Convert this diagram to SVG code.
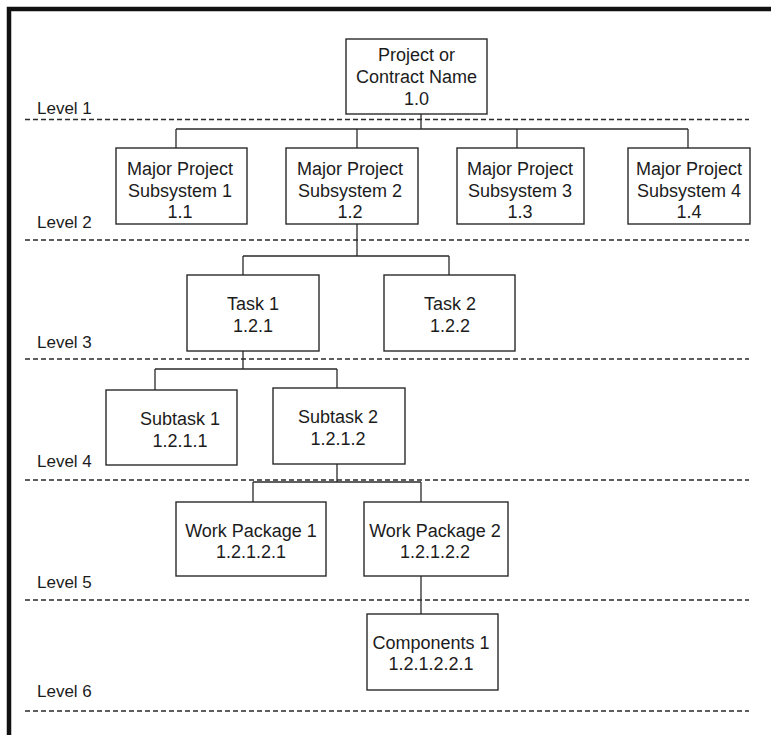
<svg xmlns="http://www.w3.org/2000/svg" width="771" height="735" viewBox="0 0 771 735">
<style>
.bg{fill:#ffffff}
.frame{fill:none;stroke:#111;stroke-width:4.5}
.lvl{fill:none;stroke:#2a2a2a;stroke-width:1.3;stroke-dasharray:5 3}
.box{fill:#fff;stroke:#2a2a2a;stroke-width:1.4}
.con{fill:none;stroke:#2a2a2a;stroke-width:1.3}
text{font-family:"Liberation Sans",Arial,Helvetica,sans-serif;fill:#1c1c1c}
.t{font-size:18px;text-anchor:middle}
.lab{font-size:17px}
</style>
<rect class="bg" x="0" y="0" width="771" height="735"/>
<path class="frame" d="M9 735 V9 H771"/>
<g id="levels">
<line class="lvl" x1="25" y1="119.5" x2="749" y2="119.5"/>
<line class="lvl" x1="25" y1="240" x2="749" y2="240"/>
<line class="lvl" x1="25" y1="359" x2="749" y2="359"/>
<line class="lvl" x1="25" y1="480" x2="749" y2="480"/>
<line class="lvl" x1="25" y1="600" x2="749" y2="600"/>
<line class="lvl" x1="25" y1="711" x2="749" y2="711"/>
<text class="lab" x="37" y="114">Level 1</text>
<text class="lab" x="37" y="228">Level 2</text>
<text class="lab" x="37" y="348">Level 3</text>
<text class="lab" x="37" y="467">Level 4</text>
<text class="lab" x="37" y="588">Level 5</text>
<text class="lab" x="37" y="697">Level 6</text>
</g>
<g id="connectors">
<path class="con" d="M421 114 V129 M176 129 H688 M176 129 V148 M357 129 V148 M517 129 V148 M688 129 V148"/>
<path class="con" d="M357 224 V256 M243 256 H449 M243 256 V275 M449 256 V275"/>
<path class="con" d="M243 351 V369 M155 369 H337 M155 369 V390 M337 369 V388"/>
<path class="con" d="M337 464 V482 M253 482 H421 M253 482 V502 M421 482 V502"/>
<path class="con" d="M421 576 V614"/>
</g>
<g id="n1_0">
<rect class="box" x="346" y="39" width="141" height="75"/>
<text class="t" x="416.5" y="61">Project or</text>
<text class="t" x="416.5" y="83">Contract Name</text>
<text class="t" x="416.5" y="105">1.0</text>
</g>
<g id="n1_1">
<rect class="box" x="116" y="148" width="131" height="76"/>
<text class="t" x="180" y="175">Major Project</text>
<text class="t" x="180" y="197">Subsystem 1</text>
<text class="t" x="180" y="218">1.1</text>
</g>
<g id="n1_2">
<rect class="box" x="286" y="148" width="132" height="76"/>
<text class="t" x="350" y="175">Major Project</text>
<text class="t" x="350" y="197">Subsystem 2</text>
<text class="t" x="350" y="218">1.2</text>
</g>
<g id="n1_3">
<rect class="box" x="457" y="148" width="127" height="76"/>
<text class="t" x="520" y="175">Major Project</text>
<text class="t" x="520" y="197">Subsystem 3</text>
<text class="t" x="520" y="218">1.3</text>
</g>
<g id="n1_4">
<rect class="box" x="628" y="148" width="122" height="76"/>
<text class="t" x="689" y="175">Major Project</text>
<text class="t" x="689" y="197">Subsystem 4</text>
<text class="t" x="689" y="218">1.4</text>
</g>
<g id="n1_2_1">
<rect class="box" x="187" y="275" width="132" height="76"/>
<text class="t" x="253" y="310">Task 1</text>
<text class="t" x="253" y="332">1.2.1</text>
</g>
<g id="n1_2_2">
<rect class="box" x="384" y="275" width="131" height="76"/>
<text class="t" x="450" y="310">Task 2</text>
<text class="t" x="450" y="332">1.2.2</text>
</g>
<g id="n1_2_1_1">
<rect class="box" x="106" y="390" width="131" height="75"/>
<text class="t" x="180" y="425">Subtask 1</text>
<text class="t" x="180" y="447">1.2.1.1</text>
</g>
<g id="n1_2_1_2">
<rect class="box" x="273" y="388" width="132" height="76"/>
<text class="t" x="338" y="423">Subtask 2</text>
<text class="t" x="338" y="445">1.2.1.2</text>
</g>
<g id="n1_2_1_2_1">
<rect class="box" x="176" y="502" width="150" height="74"/>
<text class="t" x="251" y="537">Work Package 1</text>
<text class="t" x="251" y="558">1.2.1.2.1</text>
</g>
<g id="n1_2_1_2_2">
<rect class="box" x="364" y="502" width="144" height="74"/>
<text class="t" x="435" y="537">Work Package 2</text>
<text class="t" x="435" y="558">1.2.1.2.2</text>
</g>
<g id="n1_2_1_2_2_1">
<rect class="box" x="367" y="614" width="131" height="76"/>
<text class="t" x="431" y="649">Components 1</text>
<text class="t" x="431" y="670">1.2.1.2.2.1</text>
</g>
</svg>
